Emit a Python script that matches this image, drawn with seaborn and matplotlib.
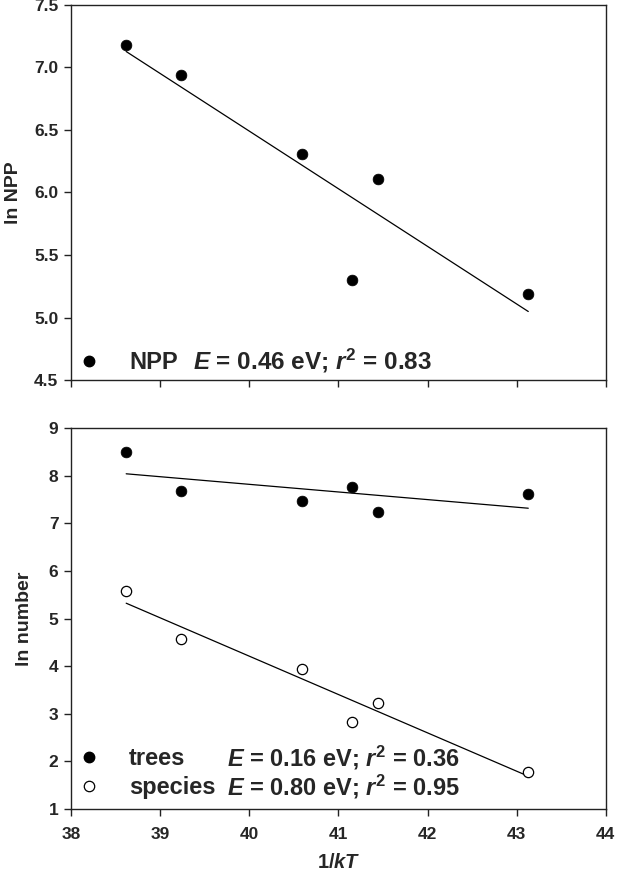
import numpy as np
import pandas as pd
import matplotlib
matplotlib.use("Agg")
import matplotlib.pyplot as plt
import seaborn as sns
from matplotlib.lines import Line2D

# ---- data ----
inv_kT = [38.62, 39.23, 40.59, 41.15, 41.44, 43.13]
ln_npp = [7.18, 6.94, 6.31, 5.30, 6.11, 5.19]
ln_trees = [8.50, 7.67, 7.46, 7.76, 7.23, 7.62]
ln_species = [5.57, 4.56, 3.95, 2.83, 3.22, 1.78]

npp_label = "NPP"
npp_stats = r"$E$ = 0.46 eV; $r^2$ = 0.83"
trees_label = "trees"
trees_stats = r"$E$ = 0.16 eV; $r^2$ = 0.36"
species_label = "species"
species_stats = r"$E$ = 0.80 eV; $r^2$ = 0.95"

x_ticks = [38, 39, 40, 41, 42, 43, 44]
top_yticks = [4.5, 5.0, 5.5, 6.0, 6.5, 7.0, 7.5]
bot_yticks = [1, 2, 3, 4, 5, 6, 7, 8, 9]

sns.set_theme(style="white")
plt.rcParams['font.family'] = ['Liberation Sans', 'DejaVu Sans']
plt.rcParams['font.weight'] = 'bold'
plt.rcParams['mathtext.fontset'] = 'custom'
plt.rcParams['mathtext.rm'] = 'Liberation Sans:bold'
plt.rcParams['mathtext.it'] = 'Liberation Sans:italic:bold'
plt.rcParams['mathtext.bf'] = 'Liberation Sans:bold'

df = pd.DataFrame({"x": inv_kT, "npp": ln_npp, "trees": ln_trees, "species": ln_species})

fig = plt.figure(figsize=(6.22, 8.73), dpi=100)
ax1 = fig.add_axes([0.114, 0.5647, 0.860, 0.4296])
ax2 = fig.add_axes([0.114, 0.0733, 0.860, 0.4364])

line_kw = dict(color="black", linewidth=0.9)
# top panel
sns.regplot(data=df, x="x", y="npp", ax=ax1, ci=None, scatter=False, line_kws=line_kw)
sns.scatterplot(data=df, x="x", y="npp", ax=ax1, color="black", s=60, edgecolor="black", linewidth=0.5, zorder=3)
# bottom panel
sns.regplot(data=df, x="x", y="trees", ax=ax2, ci=None, scatter=False, line_kws=line_kw)
sns.regplot(data=df, x="x", y="species", ax=ax2, ci=None, scatter=False, line_kws=line_kw)
sns.scatterplot(data=df, x="x", y="trees", ax=ax2, color="black", s=60, edgecolor="black", linewidth=0.5, zorder=3)
sns.scatterplot(data=df, x="x", y="species", ax=ax2, facecolor="white", s=55, edgecolor="black", linewidth=0.9, zorder=3)

for ax in (ax1, ax2):
    ax.set_xlim(38, 44)
    ax.set_xticks(x_ticks)
    for sp in ax.spines.values():
        sp.set_visible(True)
        sp.set_color("#222222")
        sp.set_linewidth(1.0)
    ax.tick_params(axis="both", direction="out", length=5, width=1.0, color="#222222",
                   labelsize=12.5, bottom=True, left=True, pad=4)
    ax.tick_params(axis="x", pad=8)

ax1.set_ylim(4.5, 7.5)
ax1.set_yticks(top_yticks)
ax1.set_yticklabels([f"{v:.1f}" for v in top_yticks], fontweight="bold")
ax1.set_xticklabels([])
ax1.set_xlabel("")
ax1.set_ylabel("ln NPP", fontsize=14, fontweight="bold", labelpad=9)

ax2.set_ylim(1, 9)
ax2.set_yticks(bot_yticks)
ax2.set_yticklabels([str(v) for v in bot_yticks], fontweight="bold")
ax2.set_xticklabels([str(v) for v in x_ticks], fontweight="bold")
ax2.set_xlabel(r"1/$kT$", fontsize=14.5, fontweight="bold", labelpad=8)
ax2.set_ylabel("ln number", fontsize=14, fontweight="bold", labelpad=11)

# legends
h_fill = Line2D([], [], marker="o", linestyle="none", markerfacecolor="black", markeredgecolor="black", markersize=7.5)
h_open = Line2D([], [], marker="o", linestyle="none", markerfacecolor="white", markeredgecolor="black", markersize=7.5, markeredgewidth=0.9)

leg1 = ax1.legend([h_fill], [npp_label], loc="lower left", bbox_to_anchor=(-0.024, -0.029),
                  frameon=False, prop={"size": 17, "weight": "bold"}, handletextpad=1.1,
                  borderaxespad=0.3, handlelength=1.2)
ax1.text(0.228, 0.027, npp_stats, transform=ax1.transAxes, fontsize=17.5, fontweight="bold",
         ha="left", va="baseline")

leg2 = ax2.legend([h_fill, h_open], [trees_label, species_label], loc="lower left",
                  bbox_to_anchor=(-0.024, -0.018), frameon=False, prop={"size": 17, "weight": "bold"},
                  handletextpad=1.1, borderaxespad=0.3, handlelength=1.2, labelspacing=0.25)
ax2.text(0.292, 0.113, trees_stats, transform=ax2.transAxes, fontsize=17, fontweight="bold",
         ha="left", va="baseline")
ax2.text(0.292, 0.037, species_stats, transform=ax2.transAxes, fontsize=17, fontweight="bold",
         ha="left", va="baseline")

fig.savefig("out.png", dpi=100)
